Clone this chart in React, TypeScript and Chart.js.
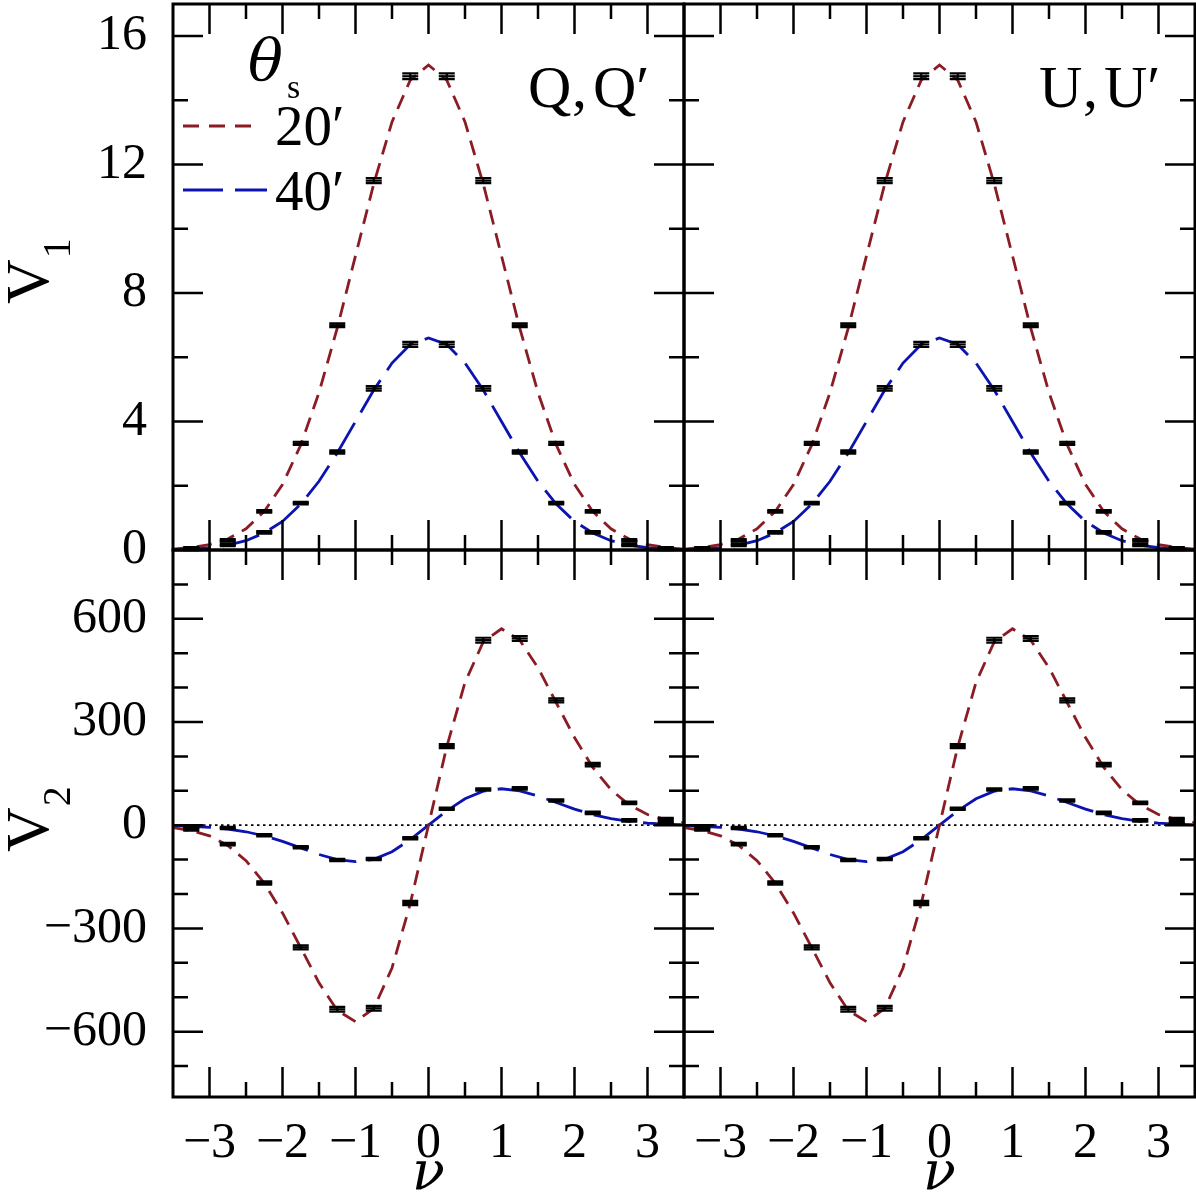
import { useEffect, useRef } from "react";
import { Chart, registerables } from "chart.js";

Chart.register(...registerables);

const SERIF = "'Liberation Serif', 'DejaVu Serif', serif";
const GREEK = "'DejaVu Serif', 'Liberation Serif', serif";
const RED = "#8b1c24";
const BLUE = "#0c14b0";
const SIZE = 1196;

// Bin centres of the measured points
const NU_BINS = [-3.25, -2.75, -2.25, -1.75, -1.25, -0.75, -0.25, 0.25, 0.75, 1.25, 1.75, 2.25, 2.75, 3.25];

// Abscissae of the theory curves
const NU_CURVE = [
  -3.5, -3.25, -3, -2.75, -2.5, -2.25, -2, -1.75, -1.5, -1.25, -1, -0.75, -0.5, -0.25, 0,
  0.25, 0.5, 0.75, 1, 1.25, 1.5, 1.75, 2, 2.25, 2.5, 2.75, 3, 3.25, 3.5,
];

// V1 theory curves, smoothing scale 20' and 40'
const V1_20_CURVE = [
  0.03, 0.08, 0.17, 0.34, 0.66, 1.2, 2.04, 3.27, 4.9, 6.91, 9.16, 11.4, 13.33, 14.63, 15.1,
  14.63, 13.33, 11.4, 9.16, 6.91, 4.9, 3.27, 2.04, 1.2, 0.66, 0.34, 0.17, 0.08, 0.03,
];
const V1_40_CURVE = [
  0.01, 0.03, 0.07, 0.15, 0.29, 0.53, 0.89, 1.43, 2.14, 3.02, 4.0, 4.98, 5.82, 6.4, 6.6,
  6.4, 5.82, 4.98, 4.0, 3.02, 2.14, 1.43, 0.89, 0.53, 0.29, 0.15, 0.07, 0.03, 0.01,
];

// V2 theory curves
const V2_20_CURVE = [
  -7, -16, -31, -59, -103, -168, -255, -356, -458, -538, -571, -533, -415, -228, 0,
  228, 415, 533, 571, 538, 458, 356, 255, 168, 103, 59, 31, 16, 7,
];
const V2_40_CURVE = [
  -1, -3, -6, -11, -19, -31, -47, -66, -85, -100, -106, -99, -77, -42, 0,
  42, 77, 99, 106, 100, 85, 66, 47, 31, 19, 11, 6, 3, 1,
];

// Measured V1 with errors
const V1_20_PTS = [0.05, 0.3, 1.2, 3.32, 7.0, 11.5, 14.75, 14.75, 11.5, 7.0, 3.32, 1.2, 0.3, 0.05];
const V1_20_ERR = [0.02, 0.03, 0.04, 0.05, 0.06, 0.08, 0.09, 0.09, 0.08, 0.06, 0.05, 0.04, 0.03, 0.02];
const V1_40_PTS = [0.03, 0.16, 0.55, 1.46, 3.05, 5.03, 6.4, 6.4, 5.03, 3.05, 1.46, 0.55, 0.16, 0.03];
const V1_40_ERR = [0.01, 0.02, 0.03, 0.04, 0.05, 0.07, 0.08, 0.08, 0.07, 0.05, 0.04, 0.03, 0.02, 0.01];

// Measured V2 with errors
const V2_20_PTS = [-12, -55, -168, -355, -535, -532, -226, 230, 538, 543, 363, 176, 65, 18];
const V2_20_ERR = [3, 4, 5, 6, 7, 7, 6, 6, 7, 7, 6, 5, 4, 3];
const V2_40_PTS = [-4, -8, -29, -64, -101, -98, -38, 48, 104, 107, 72, 36, 14, 6];
const V2_40_ERR = [2, 2, 2, 3, 3, 3, 3, 3, 3, 3, 3, 2, 2, 2];

// Zero reference line for the V2 panels
const ZERO_NU = [-3.5, 3.5];
const ZERO_V = [0, 0];

// Axis ranges and ticks
const NU_RANGE = [-3.5, 3.5];
const V1_RANGE = [0, 17];
const V2_RANGE = [-790, 800];
const X_TICKS = [-3, -2, -1, 0, 1, 2, 3];
const X_MINOR = [-2.5, -1.5, -0.5, 0.5, 1.5, 2.5];
const V1_TICKS = [0, 4, 8, 12, 16];
const V1_MINOR = [2, 6, 10, 14];
const V2_TICKS = [-600, -300, 0, 300, 600];
const V2_MINOR = [-700, -500, -400, -200, -100, 100, 200, 400, 500, 700];

const fmt = (v: number) => (v < 0 ? "\u2212" + Math.abs(v) : String(v));
const pairs = (xs: number[], ys: number[]) => xs.map((x, i) => ({ x, y: ys[i] }));

type Spec = {
  key: string;
  padding: { left: number; top: number; right: number; bottom: number };
  showX: boolean;
  showY: boolean;
  kind: "v1" | "v2";
  tag: string[];
  legend?: boolean;
  ySub?: string;
  yTitleY?: number;
  xTitle?: boolean;
};

const PANELS: Spec[] = [
  { key: "q1", padding: { left: 0, top: 4, right: 512, bottom: 646 }, showX: false, showY: true, kind: "v1", tag: ["Q", ",", "Q\u2032"], legend: true, ySub: "1", yTitleY: 304 },
  { key: "u1", padding: { left: 684, top: 4, right: 1, bottom: 646 }, showX: false, showY: false, kind: "v1", tag: ["U", ",", "U\u2032"] },
  { key: "q2", padding: { left: 0, top: 550, right: 512, bottom: 0 }, showX: true, showY: true, kind: "v2", tag: [], ySub: "2", yTitleY: 852, xTitle: true },
  { key: "u2", padding: { left: 684, top: 550, right: 1, bottom: 0 }, showX: true, showY: false, kind: "v2", tag: [], xTitle: true },
];

// Axis boxes get a fixed size and no label-overflow margins, so the plot
// areas of the four panels meet edge to edge.
const clearMargins = (s: any) => {
  s.paddingLeft = 0;
  s.paddingRight = 0;
  s.paddingTop = 0;
  s.paddingBottom = 0;
};

function buildConfig(spec: Spec): any {
  const v1 = spec.kind === "v1";
  const range = v1 ? V1_RANGE : V2_RANGE;
  const yTicks = v1 ? V1_TICKS : V2_TICKS;
  const yMinor = v1 ? V1_MINOR : V2_MINOR;
  const series = v1
    ? [
        { pts: V1_20_PTS, err: V1_20_ERR },
        { pts: V1_40_PTS, err: V1_40_ERR },
      ]
    : [
        { pts: V2_20_PTS, err: V2_20_ERR },
        { pts: V2_40_PTS, err: V2_40_ERR },
      ];

  const datasets: any[] = [
    ...series.map((s) => ({
      type: "scatter",
      data: pairs(NU_BINS, s.pts),
      pointStyle: "line",
      pointRadius: 8,
      pointBorderWidth: 2.2,
      borderColor: "#000",
      backgroundColor: "#000",
      showLine: false,
    })),
    {
      type: "line",
      data: pairs(NU_CURVE, v1 ? V1_20_CURVE : V2_20_CURVE),
      borderColor: RED,
      borderWidth: 2.8,
      borderDash: [15, 9],
      pointRadius: 0,
      tension: 0,
      fill: false,
    },
    {
      type: "line",
      data: pairs(NU_CURVE, v1 ? V1_40_CURVE : V2_40_CURVE),
      borderColor: BLUE,
      borderWidth: 2.8,
      borderDash: [38, 12],
      pointRadius: 0,
      tension: 0,
      fill: false,
    },
  ];
  if (!v1) {
    datasets.push({
      type: "line",
      data: pairs(ZERO_NU, ZERO_V),
      borderColor: "#000",
      borderWidth: 1.8,
      borderDash: [2.5, 3.5],
      pointRadius: 0,
      fill: false,
    });
  }

  const decor = {
    id: "panelDecor",
    afterDatasetsDraw(chart: any) {
      const { ctx, chartArea: a, scales } = chart;
      const x = scales.x;
      const y = scales.y;
      ctx.save();
      // error bars
      ctx.strokeStyle = "#000";
      ctx.lineWidth = 2.2;
      ctx.lineCap = "butt";
      series.forEach((s) => {
        s.pts.forEach((v, i) => {
          const px = x.getPixelForValue(NU_BINS[i]);
          let yt = y.getPixelForValue(v + s.err[i]);
          let yb = y.getPixelForValue(v - s.err[i]);
          if (yb - yt < 2.4) {
            const c = (yt + yb) / 2;
            yt = c - 1.2;
            yb = c + 1.2;
          }
          ctx.beginPath();
          ctx.moveTo(px - 8, yt);
          ctx.lineTo(px + 8, yt);
          ctx.moveTo(px - 8, yb);
          ctx.lineTo(px + 8, yb);
          ctx.moveTo(px, yt);
          ctx.lineTo(px, yb);
          ctx.stroke();
        });
      });
      // tick marks on all four sides, pointing inwards
      ctx.lineWidth = 2.5;
      const xt = (vals: number[], len: number) =>
        vals.forEach((v) => {
          const px = x.getPixelForValue(v);
          ctx.beginPath();
          ctx.moveTo(px, a.bottom);
          ctx.lineTo(px, a.bottom - len);
          ctx.moveTo(px, a.top);
          ctx.lineTo(px, a.top + len);
          ctx.stroke();
        });
      const yt2 = (vals: number[], len: number) =>
        vals.forEach((v) => {
          const py = y.getPixelForValue(v);
          ctx.beginPath();
          ctx.moveTo(a.left, py);
          ctx.lineTo(a.left + len, py);
          ctx.moveTo(a.right, py);
          ctx.lineTo(a.right - len, py);
          ctx.stroke();
        });
      xt(X_TICKS, 30);
      xt(X_MINOR, 15);
      yt2(yTicks, 30);
      yt2(yMinor, 15);
      // frame
      ctx.lineWidth = 3;
      ctx.strokeRect(a.left, a.top, a.right - a.left, a.bottom - a.top);
      ctx.restore();
    },
    afterDraw(chart: any) {
      const { ctx, chartArea: a, scales } = chart;
      ctx.save();
      ctx.fillStyle = "#000";
      ctx.textBaseline = "alphabetic";
      ctx.textAlign = "left";
      if (spec.tag.length) {
        ctx.font = `60px ${SERIF}`;
        ctx.fillText(spec.tag[0], a.left + 355, 107);
        ctx.fillText(spec.tag[1], a.left + 399, 107);
        ctx.fillText(spec.tag[2], a.left + 420, 107);
      }
      if (spec.legend) {
        ctx.font = `italic 58px ${GREEK}`;
        ctx.fillText("\u03b8", 248, 80);
        ctx.font = `34px ${SERIF}`;
        ctx.fillText("s", 287, 98);
        ctx.lineWidth = 2.8;
        ctx.strokeStyle = RED;
        ctx.setLineDash([16, 10]);
        ctx.beginPath();
        ctx.moveTo(183, 126);
        ctx.lineTo(255, 126);
        ctx.stroke();
        ctx.strokeStyle = BLUE;
        ctx.setLineDash([40, 12]);
        ctx.beginPath();
        ctx.moveTo(183, 190);
        ctx.lineTo(267, 190);
        ctx.stroke();
        ctx.setLineDash([]);
        ctx.font = `57px ${SERIF}`;
        ctx.fillText("20\u2032", 275, 145);
        ctx.fillText("40\u2032", 275, 210);
      }
      if (spec.ySub) {
        ctx.translate(48, spec.yTitleY);
        ctx.rotate(-Math.PI / 2);
        ctx.font = `62px ${SERIF}`;
        ctx.fillText("V", 0, 0);
        const w = ctx.measureText("V").width;
        ctx.font = `40px ${SERIF}`;
        ctx.fillText(spec.ySub, w + 1, 22);
        ctx.setTransform(1, 0, 0, 1, 0, 0);
      }
      if (spec.xTitle) {
        ctx.font = `italic 54px ${GREEK}`;
        ctx.textAlign = "center";
        ctx.fillText("\u03bd", scales.x.getPixelForValue(0), 1189);
      }
      ctx.restore();
    },
  };

  return {
    type: "line",
    data: { datasets },
    options: {
      responsive: false,
      animation: false,
      events: [],
      layout: { padding: spec.padding, autoPadding: false },
      plugins: { legend: { display: false }, tooltip: { enabled: false } },
      scales: {
        x: {
          type: "linear",
          position: "bottom",
          min: NU_RANGE[0],
          max: NU_RANGE[1],
          display: spec.showX,
          grid: { display: false, drawTicks: false },
          border: { display: false },
          afterBuildTicks: (s: any) => {
            s.ticks = X_TICKS.map((value) => ({ value }));
          },
          afterFit: (s: any) => {
            s.height = spec.showX ? SIZE - 1097 : 0;
            clearMargins(s);
          },
          ticks: {
            padding: 17,
            color: "#000",
            autoSkip: false,
            maxRotation: 0,
            font: { family: SERIF, size: 50 },
            callback: (v: number) => fmt(v),
          },
        },
        y: {
          type: "linear",
          position: "left",
          min: range[0],
          max: range[1],
          display: spec.showY,
          grid: { display: false, drawTicks: false },
          border: { display: false },
          afterBuildTicks: (s: any) => {
            s.ticks = yTicks.map((value) => ({ value }));
          },
          afterFit: (s: any) => {
            s.width = spec.showY ? 173 : 0;
            clearMargins(s);
          },
          ticks: {
            padding: 26,
            color: "#000",
            autoSkip: false,
            font: { family: SERIF, size: 50 },
            callback: (v: number) => fmt(v),
          },
        },
      },
    },
    plugins: [decor],
  };
}

function Panel({ spec }: { spec: Spec }) {
  const ref = useRef<HTMLCanvasElement | null>(null);
  useEffect(() => {
    if (!ref.current) return;
    const chart = new Chart(ref.current, buildConfig(spec));
    return () => chart.destroy();
  }, [spec]);
  return (
    <canvas
      ref={ref}
      width={SIZE}
      height={SIZE}
      style={{ position: "absolute", left: 0, top: 0 }}
    />
  );
}

export default function App() {
  return (
    <div style={{ position: "absolute", left: 0, top: 0, width: SIZE, height: SIZE, background: "#fff" }}>
      {PANELS.map((p) => (
        <Panel key={p.key} spec={p} />
      ))}
    </div>
  );
}
